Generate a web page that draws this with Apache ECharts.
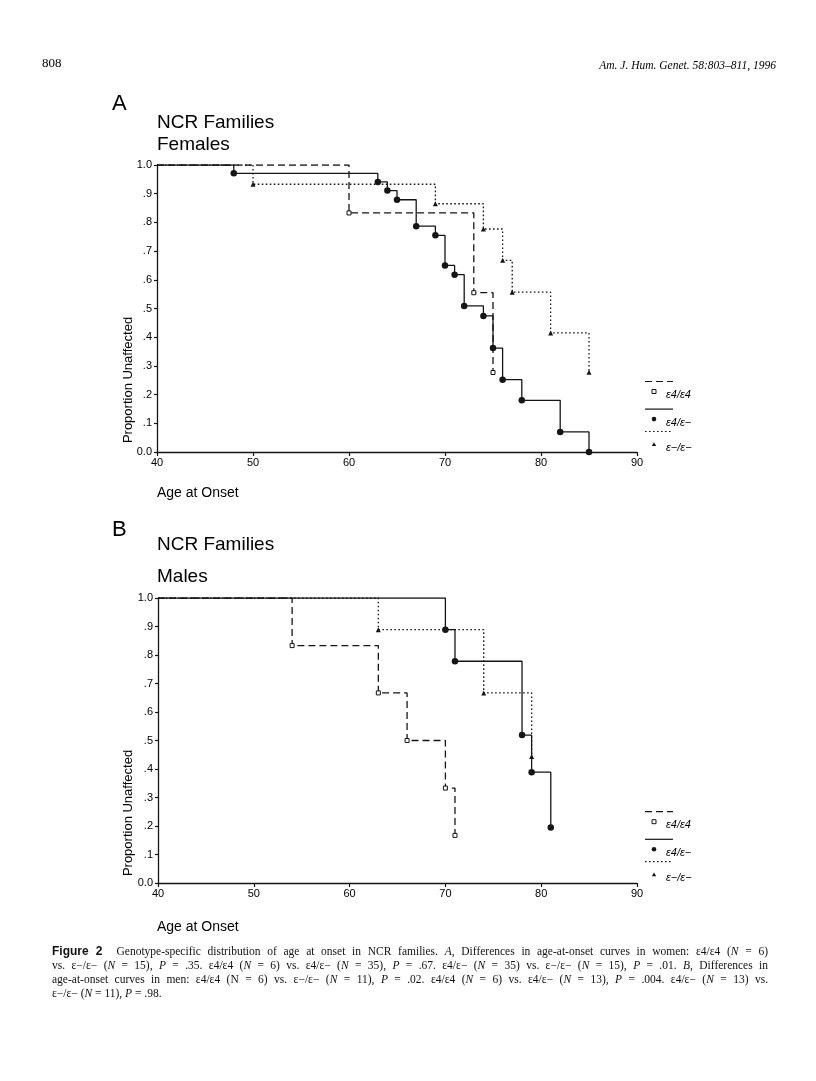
<!DOCTYPE html>
<html>
<head>
<meta charset="utf-8">
<script src="https://cdn.jsdelivr.net/npm/echarts@6/dist/echarts.min.js"></script>
<style>
  html, body { margin: 0; padding: 0; background: #fff; }
  #page { position: relative; width: 816px; height: 1081px; background: #fff; overflow: hidden; }
  #chart { position: absolute; left: 0; top: 0; width: 816px; height: 1081px; }
  #caption { position: absolute; left: 52px; top: 944px; width: 716px; font-family: "Liberation Serif", serif; font-size: 11.5px; line-height: 14px; color: #111; }
  #caption div { text-align: justify; text-align-last: justify; }
  #caption div.last { text-align-last: left; }
  #caption b { font-family: "Liberation Sans", sans-serif; font-size: 12px; margin-right: 14px; }
</style>
</head>
<body>
<div id="page">
  <div id="chart"></div>
  <div id="caption">
    <div><b>Figure 2</b>Genotype-specific distribution of age at onset in NCR families. <i>A</i>, Differences in age-at-onset curves in women: ε4/ε4 (<i>N</i> = 6)</div>
    <div>vs. ε−/ε− (<i>N</i> = 15), <i>P</i> = .35. ε4/ε4 (<i>N</i> = 6) vs. ε4/ε− (<i>N</i> = 35), <i>P</i> = .67. ε4/ε− (<i>N</i> = 35) vs. ε−/ε− (<i>N</i> = 15), <i>P</i> = .01. <i>B</i>, Differences in</div>
    <div>age-at-onset curves in men: ε4/ε4 (N = 6) vs. ε−/ε− (<i>N</i> = 11), <i>P</i> = .02. ε4/ε4 (<i>N</i> = 6) vs. ε4/ε− (<i>N</i> = 13), <i>P</i> = .004. ε4/ε− (<i>N</i> = 13) vs.</div>
    <div class="last">ε−/ε− (<i>N</i> = 11), <i>P</i> = .98.</div>
  </div>
</div>
<script>
// ---------- data ----------
const xTicks = [40, 50, 60, 70, 80, 90];
const seriesNames = ['ε4/ε4', 'ε4/ε−', 'ε−/ε−'];

// Panel A: Females
const femE4E4Age  = [40, 60, 73, 75];
const femE4E4Surv = [1.0, 0.833, 0.555, 0.277];
const femE4EmAge  = [40, 48, 63, 64, 65, 67, 69, 70, 71, 72, 74, 75, 76, 78, 82, 85];
const femE4EmSurv = [1.0, 0.971, 0.941, 0.911, 0.879, 0.787, 0.755, 0.650, 0.618, 0.509, 0.474, 0.362, 0.252, 0.180, 0.070, 0.0];
const femEmEmAge  = [40, 50, 69, 74, 76, 77, 81, 85];
const femEmEmSurv = [1.0, 0.933, 0.865, 0.777, 0.668, 0.557, 0.415, 0.278];

// Panel B: Males
const maleE4E4Age  = [40, 54, 63, 66, 70, 71];
const maleE4E4Surv = [1.0, 0.833, 0.667, 0.500, 0.333, 0.167];
const maleE4EmAge  = [40, 70, 71, 78, 79, 81];
const maleE4EmSurv = [1.0, 0.889, 0.778, 0.519, 0.389, 0.195];
const maleEmEmAge  = [40, 63, 74, 79];
const maleEmEmSurv = [1.0, 0.889, 0.667, 0.444];

// ---------- styles ----------
const INK = '#151515';
const SANS = '"Liberation Sans", Arial, sans-serif';
const styles = [
  { lineDash: [7, 4], symbol: 'rect', size: 4, fill: '#fff', border: INK, bw: 1 },
  { lineDash: null, symbol: 'circle', size: 6.5, fill: INK, border: INK, bw: 0 },
  { lineDash: [1.6, 2.4], symbol: 'triangle', size: 5, fill: INK, border: INK, bw: 0 }
];

function mk(ages, survs) {
  return ages.map((a, i) => i === 0 ? { value: [a, survs[i]], symbol: 'none' } : [a, survs[i]]);
}

function makeSeries(idx, k, ages, survs) {
  const s = styles[k];
  return {
    type: 'line', name: seriesNames[k], xAxisIndex: idx, yAxisIndex: idx,
    step: 'end', data: mk(ages, survs),
    symbol: s.symbol, symbolSize: s.size, showAllSymbol: true,
    lineStyle: { color: INK, width: 1.3, type: s.lineDash ? s.lineDash : 'solid' },
    itemStyle: { color: s.fill, borderColor: s.border, borderWidth: s.bw },
    z: k === 1 ? 4 : 3,
    silent: true
  };
}

function xAxisDef(idx) {
  return {
    type: 'value', gridIndex: idx, min: 40, max: 90, interval: 10,
    axisLine: { show: true, lineStyle: { color: INK, width: 1.3 } },
    axisTick: { show: true, inside: false, length: 4, lineStyle: { color: INK, width: 1.2 } },
    axisLabel: { show: true, margin: 5, fontSize: 11, fontFamily: SANS, color: '#000',
      formatter: v => xTicks.includes(v) ? String(v) : '' },
    splitLine: { show: false }
  };
}
function yAxisDef(idx) {
  return {
    type: 'value', gridIndex: idx, min: 0, max: 1, interval: 0.1,
    axisLine: { show: true, lineStyle: { color: INK, width: 1.3 } },
    axisTick: { show: true, inside: false, length: 3, lineStyle: { color: INK, width: 1.2 } },
    axisLabel: { show: true, margin: 5, fontSize: 11, fontFamily: SANS, color: '#000',
      formatter: v => { const t = Math.round(v * 10); return t === 10 ? '1.0' : t === 0 ? '0.0' : '.' + t; } },
    splitLine: { show: false }
  };
}

// ---------- graphics (titles, labels, legends) ----------
function txt(x, y, text, size, opts) {
  opts = opts || {};
  return { type: 'text', x: x, y: y, rotation: opts.rot || 0, silent: true,
    style: { text: text, fontSize: size, fontFamily: opts.family || SANS, fill: opts.fill || '#000',
      fontStyle: opts.italic ? 'italic' : 'normal', fontWeight: opts.bold ? 'bold' : 'normal',
      align: opts.align || 'left', verticalAlign: 'middle' } };
}

function legend(yTop) {
  // yTop = y of first (dashed) sample line
  const out = [];
  const x0 = 645, x1 = 673, mx = 654, tx = 666;
  const rows = [0, 27.6, 50];
  rows.forEach((dy, k) => {
    const s = styles[k];
    const ly = yTop + dy;
    out.push({ type: 'line', silent: true, shape: { x1: x0, y1: ly, x2: x1, y2: ly },
      style: { stroke: INK, lineWidth: 1.2, lineDash: s.lineDash || null } });
    const my = ly + (k === 2 ? 13 : 10);
    if (s.symbol === 'rect') {
      out.push({ type: 'rect', silent: true, shape: { x: mx - 2, y: my - 2, width: 4, height: 4 },
        style: { fill: '#fff', stroke: INK, lineWidth: 1 } });
    } else if (s.symbol === 'circle') {
      out.push({ type: 'circle', silent: true, shape: { cx: mx, cy: my, r: 2.3 }, style: { fill: INK } });
    } else {
      out.push({ type: 'polygon', silent: true, shape: { points: [[mx, my - 2.3], [mx - 2.2, my + 1.5], [mx + 2.2, my + 1.5]] },
        style: { fill: INK } });
    }
    out.push(txt(tx, my + 3.5, seriesNames[k], 11, { italic: true }));
  });
  return out;
}

const graphics = [
  txt(42, 64, '808', 13, { family: '"Liberation Serif", serif' }),
  txt(776, 66, 'Am. J. Hum. Genet. 58:803–811, 1996', 11.5, { family: '"Liberation Serif", serif', italic: true, align: 'right' }),
  // Panel A
  txt(112, 104, 'A', 22),
  txt(157, 123, 'NCR Families', 19),
  txt(157, 145, 'Females', 19),
  txt(128, 380, 'Proportion Unaffected', 13, { rot: Math.PI / 2, align: 'center' }),
  txt(157, 493, 'Age at Onset', 14),
  // Panel B
  txt(112, 530, 'B', 22),
  txt(157, 545, 'NCR Families', 19),
  txt(157, 577, 'Males', 19),
  txt(128, 813, 'Proportion Unaffected', 13, { rot: Math.PI / 2, align: 'center' }),
  txt(157, 927, 'Age at Onset', 14)
].concat(legend(381.5)).concat(legend(811.7));

const chart = echarts.init(document.getElementById('chart'), null, { renderer: 'canvas', width: 816, height: 1081 });
chart.setOption({
  animation: false,
  backgroundColor: 'transparent',
  grid: [
    { left: 157, top: 165, width: 480, height: 287, containLabel: false, outerBoundsMode: 'none' },
    { left: 158, top: 598, width: 479, height: 285, containLabel: false, outerBoundsMode: 'none' }
  ],
  xAxis: [xAxisDef(0), xAxisDef(1)],
  yAxis: [yAxisDef(0), yAxisDef(1)],
  series: [
    makeSeries(0, 0, femE4E4Age, femE4E4Surv),
    makeSeries(0, 1, femE4EmAge, femE4EmSurv),
    makeSeries(0, 2, femEmEmAge, femEmEmSurv),
    makeSeries(1, 0, maleE4E4Age, maleE4E4Surv),
    makeSeries(1, 1, maleE4EmAge, maleE4EmSurv),
    makeSeries(1, 2, maleEmEmAge, maleEmEmSurv)
  ],
  graphic: graphics
});
</script>
</body>
</html>
